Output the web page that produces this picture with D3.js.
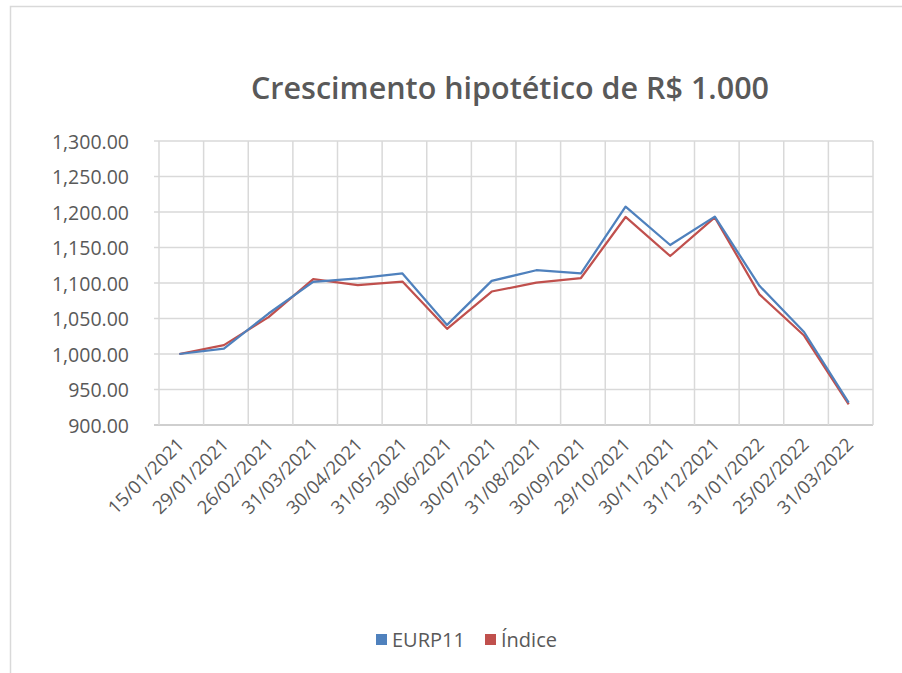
<!DOCTYPE html>
<html>
<head>
<meta charset="utf-8">
<script src="https://cdn.jsdelivr.net/npm/d3@7"></script>
<style>
  body { margin: 0; background: #fff; }
  text { font-family: "Open Sans", "Noto Sans", sans-serif; fill: #595959; }
</style>
</head>
<body>
<script>
let dates = ['15/01/2021', '29/01/2021', '26/02/2021', '31/03/2021', '30/04/2021', '31/05/2021',
  '30/06/2021', '30/07/2021', '31/08/2021', '30/09/2021', '29/10/2021', '30/11/2021',
  '31/12/2021', '31/01/2022', '25/02/2022', '31/03/2022'];
let eurp11 = [1000, 1007.5, 1057, 1101.5, 1106.5, 1113.5, 1041, 1103, 1118, 1113.5,
  1207.5, 1153.5, 1193.5, 1096, 1031, 931.5];
let indice = [1000, 1012.5, 1052, 1105.5, 1097, 1102, 1035.5, 1088, 1100.5, 1107,
  1193, 1138, 1192.5, 1084, 1026, 929];
let yTicks = [900, 950, 1000, 1050, 1100, 1150, 1200, 1250, 1300];

let width = 902;
let height = 673;
let margin = {top: 141, right: 29, bottom: 248, left: 159};

let svg = d3.select('body')
  .append('svg')
  .attr('width', width)
  .attr('height', height);

// chart border
svg.append('rect')
  .attr('x', 10.5).attr('y', 6.5)
  .attr('width', 1000).attr('height', 1000)
  .attr('fill', 'none')
  .attr('stroke', '#d9d9d9')
  .attr('stroke-width', 1.5);

svg.append('text')
  .attr('x', 510)
  .attr('y', 99)
  .attr('text-anchor', 'middle')
  .style('font-size', '30.5px')
  .style('font-weight', 600)
  .text('Crescimento hipotético de R$ 1.000');

let x = d3.scaleBand()
  .domain(dates)
  .range([margin.left, width - margin.right]);

let y = d3.scaleLinear()
  .domain([900, 1300])
  .range([height - margin.bottom, margin.top]);

let grid = svg.append('g');

grid.selectAll('line.h')
  .data(yTicks)
  .enter()
  .append('line')
  .attr('class', 'h')
  .attr('x1', margin.left - 5)
  .attr('x2', width - margin.right)
  .attr('y1', d => y(d))
  .attr('y2', d => y(d))
  .attr('stroke', d => d === 900 ? '#cfcfcf' : '#d9d9d9')
  .attr('stroke-width', d => d === 900 ? 2 : 1.5);

let vx = dates.map(d => x(d)).concat([width - margin.right]);
grid.selectAll('line.v')
  .data(vx)
  .enter()
  .append('line')
  .attr('class', 'v')
  .attr('x1', d => d)
  .attr('x2', d => d)
  .attr('y1', margin.top)
  .attr('y2', height - margin.bottom)
  .attr('stroke', '#d9d9d9')
  .attr('stroke-width', 1.5);

// y axis labels
let yAxis = svg.append('g')
  .attr('transform', 'translate(' + (margin.left - 30) + ',0)')
  .call(d3.axisLeft(y).tickValues(yTicks).tickSize(0).tickFormat(d3.format(',.2f')));
yAxis.select('.domain').remove();
yAxis.selectAll('text')
  .attr('x', 0)
  .attr('dy', '0.36em')
  .style('font-size', '19.5px')
  .style('fill', '#595959');

// x axis labels
let xAxis = svg.append('g')
  .attr('transform', 'translate(0,' + (height - margin.bottom) + ')')
  .call(d3.axisBottom(x).tickSize(0));
xAxis.select('.domain').remove();
xAxis.selectAll('text')
  .attr('text-anchor', 'end')
  .attr('transform', 'translate(-4,13) rotate(-45)')
  .attr('x', 0)
  .attr('y', 0)
  .attr('dy', '0.6em')
  .style('font-size', '18.5px')
  .style('fill', '#595959');

let line = d3.line()
  .x((d, i) => x(dates[i]) + x.bandwidth() / 2 - 2)
  .y(d => y(d));

svg.append('path')
  .attr('d', line(indice))
  .attr('fill', 'none')
  .attr('stroke', '#c0504d')
  .attr('stroke-width', 2.25)
  .attr('stroke-linejoin', 'round');

svg.append('path')
  .attr('d', line(eurp11))
  .attr('fill', 'none')
  .attr('stroke', '#4f81bd')
  .attr('stroke-width', 2.25)
  .attr('stroke-linejoin', 'round');

// legend
let legend = [
  {name: 'EURP11', color: '#4f81bd', x: 376},
  {name: 'Índice', color: '#c0504d', x: 485}
];
let lg = svg.append('g');
lg.selectAll('rect')
  .data(legend)
  .enter()
  .append('rect')
  .attr('x', d => d.x)
  .attr('y', 634)
  .attr('width', 11)
  .attr('height', 11)
  .attr('fill', d => d.color);
lg.selectAll('text')
  .data(legend)
  .enter()
  .append('text')
  .attr('x', d => d.x + 16)
  .attr('y', 647)
  .style('font-size', '20px')
  .text(d => d.name);
</script>
</body>
</html>
